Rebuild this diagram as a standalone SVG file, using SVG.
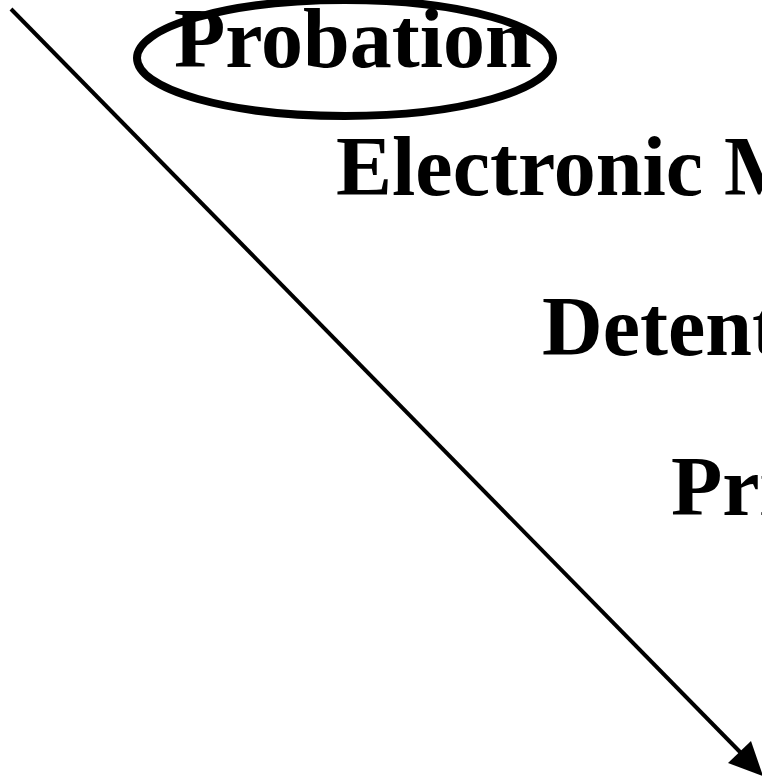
<svg xmlns="http://www.w3.org/2000/svg" width="762" height="778" viewBox="0 0 762 778">
  <style>
    .lbl { font-family: "Liberation Serif", "Times New Roman", serif; font-weight: bold; font-size: 84px; fill: #000; }
    .ring { fill: none; stroke: #000; stroke-width: 8; }
    .conn { fill: none; stroke: #000; stroke-width: 4; }
  </style>
  <rect width="762" height="778" fill="#fff"/>
  <g id="connectors">
    <line class="conn" x1="11" y1="9" x2="742" y2="754"/>
    <polygon points="763,776 728,763 751,741" fill="#000"/>
  </g>
  <g id="probation">
    <ellipse class="ring" cx="345" cy="58" rx="208" ry="58"/>
    <text class="lbl" x="174" y="67">Probation</text>
  </g>
  <g id="electronic-monitoring">
    <text class="lbl" x="336" y="195">Electronic Monitoring</text>
  </g>
  <g id="detention">
    <text class="lbl" x="542" y="355">Detention</text>
  </g>
  <g id="prison">
    <text class="lbl" x="671" y="515">Prison</text>
  </g>
</svg>
